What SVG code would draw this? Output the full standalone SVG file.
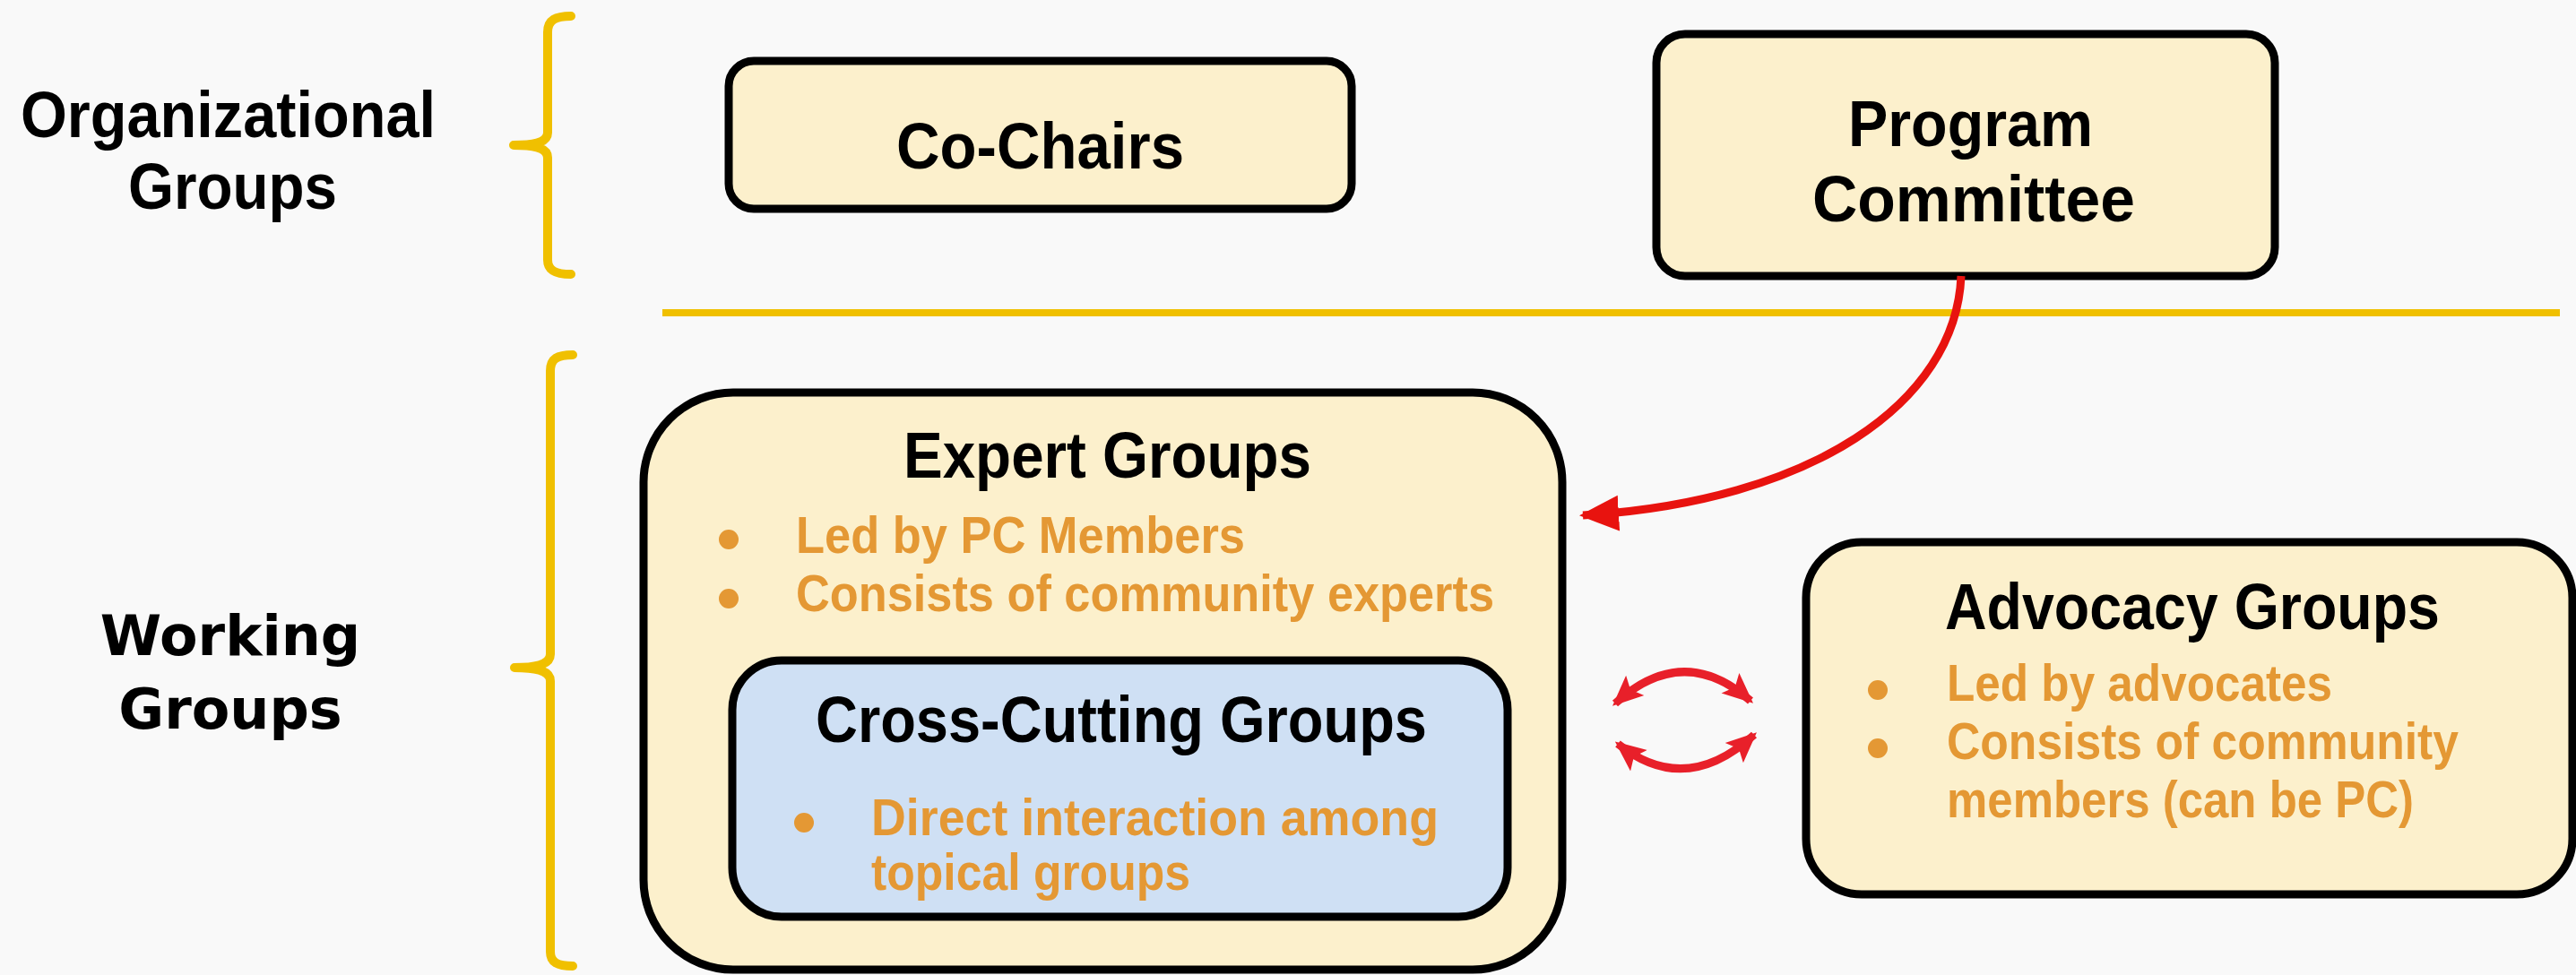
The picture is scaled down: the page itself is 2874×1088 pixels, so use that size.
<svg xmlns="http://www.w3.org/2000/svg" width="2874" height="1088" viewBox="0 0 2874 1088">
<defs>
<style>
.box{fill:#FCF0CC;stroke:#000;stroke-width:9}
.blue{fill:#CFE0F4;stroke:#000;stroke-width:9}
.h{font-family:"Liberation Sans",Arial,sans-serif;font-weight:bold;font-size:72px;fill:#000}
.b{font-family:"Liberation Sans",Arial,sans-serif;font-weight:bold;font-size:57px;fill:#E49834}
.v{font-family:"DejaVu Sans",Verdana,sans-serif;font-weight:bold;font-size:62px;fill:#000}
.dot{fill:#E49834}
.br{fill:none;stroke:#F0C000;stroke-width:10;stroke-linecap:round;stroke-linejoin:round}
.red{fill:none;stroke:#E8130F;stroke-width:9}
.red2{fill:none;stroke:#E8202A;stroke-width:9}
</style>
<marker id="ah" markerUnits="userSpaceOnUse" viewBox="0 0 44 44" markerWidth="44" markerHeight="44" refX="40" refY="22" orient="auto">
<path d="M0,2 L44,22 L0,42 Z" fill="#E8130F"/>
</marker>
<marker id="ah2" markerUnits="userSpaceOnUse" viewBox="0 0 34 34" markerWidth="34" markerHeight="34" refX="30" refY="17" orient="auto-start-reverse">
<path d="M0,2 L34,17 L0,32 L7,17 Z" fill="#E8202A"/>
</marker>
</defs>
<rect x="0" y="0" width="2874" height="1088" fill="#F9F9F9"/>

<g id="labels">
<g id="org-label">
<text class="h" x="23" y="153" textLength="463" lengthAdjust="spacingAndGlyphs">Organizational</text>
<text class="h" x="143" y="233" textLength="233" lengthAdjust="spacingAndGlyphs">Groups</text>
</g>
<g id="working-label">
<text class="v" x="257" y="731" text-anchor="middle">Working</text>
<text class="v" x="257" y="813" text-anchor="middle">Groups</text>
</g>
</g>

<g id="brackets">
<path class="br" d="M637,18 C620,18 611,22 611,36 L611,148 C611,158 600,162 573,162 C600,162 611,166 611,176 L611,290 C611,302 620,306 637,306"/>
<path class="br" d="M639,396 C622,396 614,400 614,414 L614,730 C614,740 603,745 574,745 C603,745 614,750 614,760 L614,1062 C614,1074 622,1078 639,1078"/>
</g>

<line id="divider" x1="739" y1="349" x2="2856" y2="349" stroke="#F0C000" stroke-width="8"/>

<g id="co-chairs">
<rect class="box" x="813" y="68" width="695" height="165" rx="28"/>
<text class="h" x="1000" y="188" textLength="321" lengthAdjust="spacingAndGlyphs">Co-Chairs</text>
</g>

<g id="program-committee">
<rect class="box" x="1848" y="38" width="690" height="270" rx="32"/>
<text class="h" x="2062" y="163" textLength="273" lengthAdjust="spacingAndGlyphs">Program</text>
<text class="h" x="2022" y="247" textLength="360" lengthAdjust="spacingAndGlyphs">Committee</text>
</g>

<g id="expert-groups">
<rect class="box" x="718" y="438" width="1025" height="644" rx="100"/>
<text class="h" x="1008" y="533" textLength="455" lengthAdjust="spacingAndGlyphs">Expert Groups</text>
<circle class="dot" cx="813" cy="602" r="11"/>
<text class="b" x="888" y="617" textLength="501" lengthAdjust="spacingAndGlyphs">Led by PC Members</text>
<circle class="dot" cx="813" cy="668" r="11"/>
<text class="b" x="888" y="682" textLength="779" lengthAdjust="spacingAndGlyphs">Consists of community experts</text>
</g>

<g id="cross-cutting-groups">
<rect class="blue" x="817" y="737" width="865" height="286" rx="55"/>
<text class="h" x="910" y="828" textLength="682" lengthAdjust="spacingAndGlyphs">Cross-Cutting Groups</text>
<circle class="dot" cx="897" cy="918" r="11"/>
<text class="b" x="972" y="932" textLength="633" lengthAdjust="spacingAndGlyphs">Direct interaction among</text>
<text class="b" x="972" y="993" textLength="356" lengthAdjust="spacingAndGlyphs">topical groups</text>
</g>

<g id="advocacy-groups">
<rect class="box" x="2015" y="605" width="855" height="393" rx="62"/>
<text class="h" x="2170" y="702" textLength="552" lengthAdjust="spacingAndGlyphs">Advocacy Groups</text>
<circle class="dot" cx="2095" cy="770" r="11"/>
<text class="b" x="2172" y="782" textLength="430" lengthAdjust="spacingAndGlyphs">Led by advocates</text>
<circle class="dot" cx="2095" cy="835" r="11"/>
<text class="b" x="2172" y="847" textLength="571" lengthAdjust="spacingAndGlyphs">Consists of community</text>
<text class="b" x="2172" y="912" textLength="521" lengthAdjust="spacingAndGlyphs">members (can be PC)</text>
</g>

<g id="connectors">
<path class="red" d="M2188,308 C2182,450 2020,560 1766,575" marker-end="url(#ah)"/>
<path class="red2" d="M1802,785 Q1878,716 1953,782" marker-start="url(#ah2)" marker-end="url(#ah2)"/>
<path class="red2" d="M1805,830 Q1880,890 1957,820" marker-start="url(#ah2)" marker-end="url(#ah2)"/>
</g>
</svg>
